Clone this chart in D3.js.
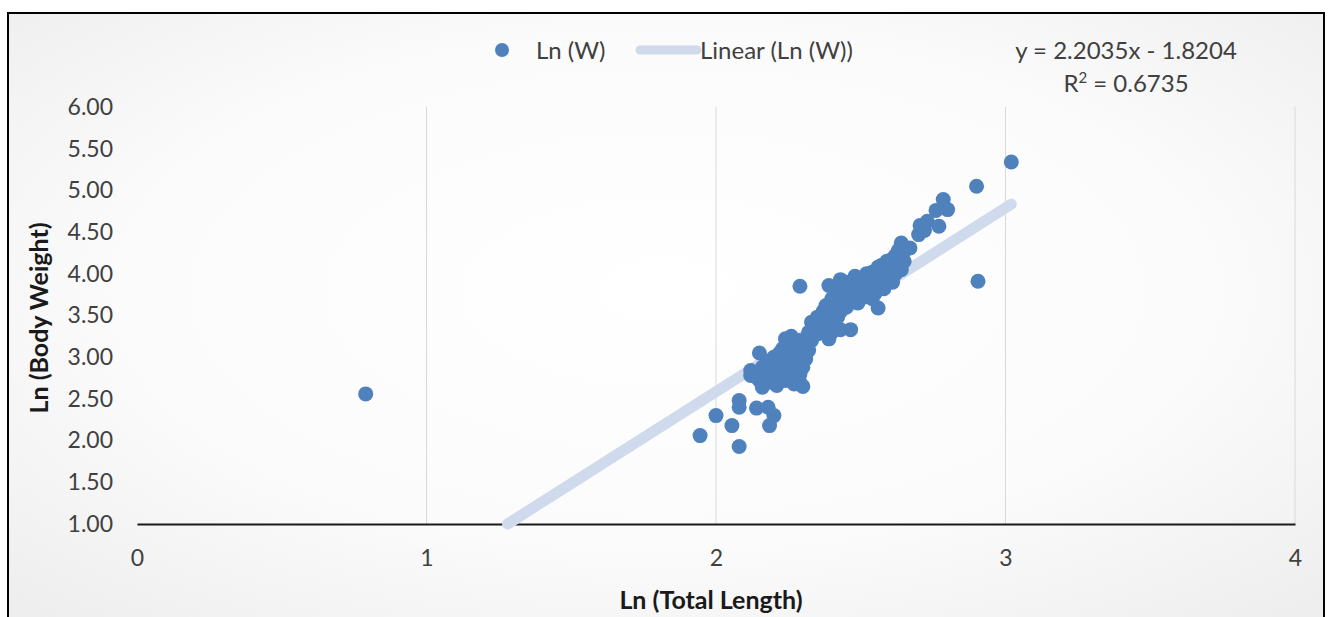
<!DOCTYPE html>
<html>
<head>
<meta charset="utf-8">
<script src="https://cdn.jsdelivr.net/npm/d3@7"></script>
<style>
  body { margin: 0; background: #fff; }
  svg { display: block; font-family: Lato, "Open Sans", sans-serif; }
</style>
</head>
<body>
<div id="chart"></div>
<script>
// Ln(Total Length), Ln(Body Weight) pairs
var outliers = [[0.79, 2.56], [2.29, 3.85], [2.90, 5.05], [2.905, 3.91], [3.02, 5.34]];
var lowPoints = [[1.945, 2.06], [2.0, 2.30], [2.055, 2.18], [2.08, 1.93], [2.08, 2.48], [2.08, 2.40],
  [2.14, 2.39], [2.18, 2.40], [2.20, 2.30], [2.185, 2.18]];
var lowerCluster = [[2.12, 2.78], [2.12, 2.84], [2.13, 2.80], [2.15, 3.05], [2.15, 2.72], [2.16, 2.64],
  [2.16, 2.88], [2.17, 2.80], [2.18, 2.75], [2.18, 2.95], [2.19, 2.85], [2.19, 2.70], [2.20, 2.78],
  [2.20, 2.92], [2.20, 3.00], [2.21, 2.82], [2.21, 2.72], [2.22, 2.88], [2.22, 3.05], [2.22, 2.95],
  [2.23, 2.78], [2.23, 3.10], [2.23, 2.85], [2.24, 3.22], [2.24, 2.72], [2.24, 2.98], [2.25, 2.90],
  [2.25, 3.05], [2.25, 2.80], [2.26, 3.25], [2.26, 2.95], [2.26, 2.75], [2.27, 3.15], [2.27, 2.86],
  [2.27, 3.02], [2.28, 2.72], [2.28, 3.10], [2.28, 2.92], [2.29, 2.80], [2.29, 3.20], [2.29, 2.70],
  [2.30, 2.65], [2.30, 3.05], [2.30, 2.88], [2.31, 2.98], [2.31, 3.15], [2.32, 3.30], [2.32, 3.08],
  [2.14, 2.76], [2.17, 2.70], [2.21, 2.66], [2.27, 2.68]];
var midCluster = [[2.33, 3.42], [2.33, 3.20], [2.34, 3.35], [2.35, 3.28], [2.35, 3.48], [2.36, 3.40],
  [2.37, 3.30], [2.37, 3.55], [2.38, 3.45], [2.38, 3.62], [2.39, 3.22], [2.39, 3.38], [2.40, 3.52],
  [2.40, 3.70], [2.40, 3.30], [2.41, 3.60], [2.42, 3.48], [2.42, 3.78], [2.43, 3.65], [2.43, 3.55],
  [2.44, 3.72], [2.44, 3.88], [2.45, 3.60], [2.45, 3.80], [2.39, 3.86], [2.43, 3.93],
  [2.43, 3.33], [2.465, 3.33], [2.56, 3.59]];
var upperCluster = [[2.46, 3.70], [2.46, 3.90], [2.47, 3.82], [2.48, 3.97], [2.48, 3.75], [2.49, 3.65],
  [2.49, 3.88], [2.50, 3.80], [2.50, 3.95], [2.51, 3.72], [2.51, 3.90], [2.52, 3.85], [2.52, 4.00],
  [2.53, 3.78], [2.53, 3.92], [2.54, 4.02], [2.54, 3.70], [2.55, 3.85], [2.55, 3.77], [2.56, 3.95],
  [2.56, 4.08], [2.57, 3.88], [2.57, 4.10], [2.58, 4.00], [2.58, 3.82], [2.59, 3.92], [2.59, 4.15],
  [2.60, 4.05], [2.60, 3.95], [2.61, 4.18], [2.61, 3.90], [2.62, 4.22], [2.62, 4.00], [2.63, 4.10],
  [2.63, 4.28], [2.64, 4.05], [2.64, 4.35], [2.65, 4.15], [2.66, 4.30], [2.67, 4.31], [2.64, 4.37]];
var topPoints = [[2.70, 4.47], [2.705, 4.58], [2.72, 4.52], [2.73, 4.63], [2.76, 4.76], [2.77, 4.57],
  [2.785, 4.89], [2.80, 4.77]];

// trendline from the equation shown on the chart
var slope = 2.2035, intercept = -1.8204;
var eqLabel = 'y = 2.2035x - 1.8204';
var r2Label = '0.6735';

var xTicks = [0, 1, 2, 3, 4];
var yTicks = [1, 1.5, 2, 2.5, 3, 3.5, 4, 4.5, 5, 5.5, 6];

var points = [].concat(outliers, lowPoints, lowerCluster, midCluster, upperCluster, topPoints);

var W = 1332, H = 617;
var svg = d3.select('#chart').append('svg').attr('width', W).attr('height', H);

// soft radial background like the excel chart area
var defs = svg.append('defs');
var grad = defs.append('radialGradient').attr('id', 'bg')
  .attr('cx', '50%').attr('cy', '45%').attr('r', '75%');
grad.append('stop').attr('offset', '0%').attr('stop-color', '#ffffff');
grad.append('stop').attr('offset', '55%').attr('stop-color', '#fbfbfb');
grad.append('stop').attr('offset', '100%').attr('stop-color', '#ececec');

svg.append('rect').attr('x', 0).attr('y', 0).attr('width', W).attr('height', H).attr('fill', '#fff');
svg.append('rect').attr('x', 8).attr('y', 13).attr('width', 1316).attr('height', 620)
  .attr('fill', 'url(#bg)').attr('stroke', '#000').attr('stroke-width', 2);

var x = d3.scaleLinear().domain([0, 4]).range([137, 1295]);
var y = d3.scaleLinear().domain([1, 6]).range([524, 107]);

// vertical gridlines
svg.append('g').selectAll('line').data(xTicks.slice(1)).enter().append('line')
  .attr('x1', function (d) { return x(d); }).attr('x2', function (d) { return x(d); })
  .attr('y1', y(6)).attr('y2', y(1))
  .attr('stroke', '#d9d9d9').attr('stroke-width', 1);

// axes
var xAxis = svg.append('g').attr('transform', 'translate(0,' + y(1) + ')')
  .call(d3.axisBottom(x).tickValues(xTicks).tickSize(0).tickPadding(26).tickFormat(d3.format('d')));
xAxis.select('.domain').attr('stroke', '#1a1a1a').attr('stroke-width', 2);
xAxis.selectAll('text').attr('font-size', 23).attr('fill', '#404040').attr('font-family', 'Lato, sans-serif');

var yAxis = svg.append('g').attr('transform', 'translate(' + x(0) + ',0)')
  .call(d3.axisLeft(y).tickValues(yTicks).tickSize(0).tickPadding(24).tickFormat(d3.format('.2f')));
yAxis.select('.domain').remove();
yAxis.selectAll('text').attr('font-size', 23).attr('fill', '#404040').attr('font-family', 'Lato, sans-serif');

// linear trendline
var x0 = (1 - intercept) / slope;
var x1 = d3.max(points, function (d) { return d[0]; });
svg.append('line')
  .attr('x1', x(x0)).attr('y1', y(slope * x0 + intercept))
  .attr('x2', x(x1)).attr('y2', y(slope * x1 + intercept))
  .attr('stroke', '#cfdbec').attr('stroke-width', 11).attr('stroke-linecap', 'round');

// points
svg.append('g').selectAll('circle').data(points).enter().append('circle')
  .attr('cx', function (d) { return x(d[0]); })
  .attr('cy', function (d) { return y(d[1]); })
  .attr('r', 7.5)
  .attr('fill', '#4f81bd');

// legend
var lg = svg.append('g');
lg.append('circle').attr('cx', 502).attr('cy', 50).attr('r', 7).attr('fill', '#4f81bd');
lg.append('text').attr('x', 536).attr('y', 59).attr('font-size', 24).attr('fill', '#404040').text('Ln (W)');
lg.append('line').attr('x1', 640).attr('x2', 697).attr('y1', 50).attr('y2', 50)
  .attr('stroke', '#cfdbec').attr('stroke-width', 9).attr('stroke-linecap', 'round');
lg.append('text').attr('x', 700).attr('y', 59).attr('font-size', 24).attr('fill', '#404040').text('Linear (Ln (W))');

// equation
svg.append('text').attr('x', 1126).attr('y', 59).attr('text-anchor', 'middle')
  .attr('font-size', 24).attr('fill', '#404040').text(eqLabel);
var r2 = svg.append('text').attr('x', 1126).attr('y', 92).attr('text-anchor', 'middle')
  .attr('font-size', 24).attr('fill', '#404040');
r2.append('tspan').text('R');
r2.append('tspan').attr('dy', -9).attr('font-size', 15).text('2');
r2.append('tspan').attr('dy', 9).text(' = ' + r2Label);

// axis titles
svg.append('text').attr('x', x(2) - 5).attr('y', 609).attr('text-anchor', 'middle')
  .attr('font-size', 25).attr('font-weight', 'bold').attr('fill', '#1a1a1a').text('Ln (Total Length)');
svg.append('text').attr('transform', 'translate(48,' + 318 + ') rotate(-90)').attr('text-anchor', 'middle')
  .attr('font-size', 25).attr('font-weight', 'bold').attr('fill', '#1a1a1a').text('Ln (Body Weight)');
</script>
</body>
</html>
